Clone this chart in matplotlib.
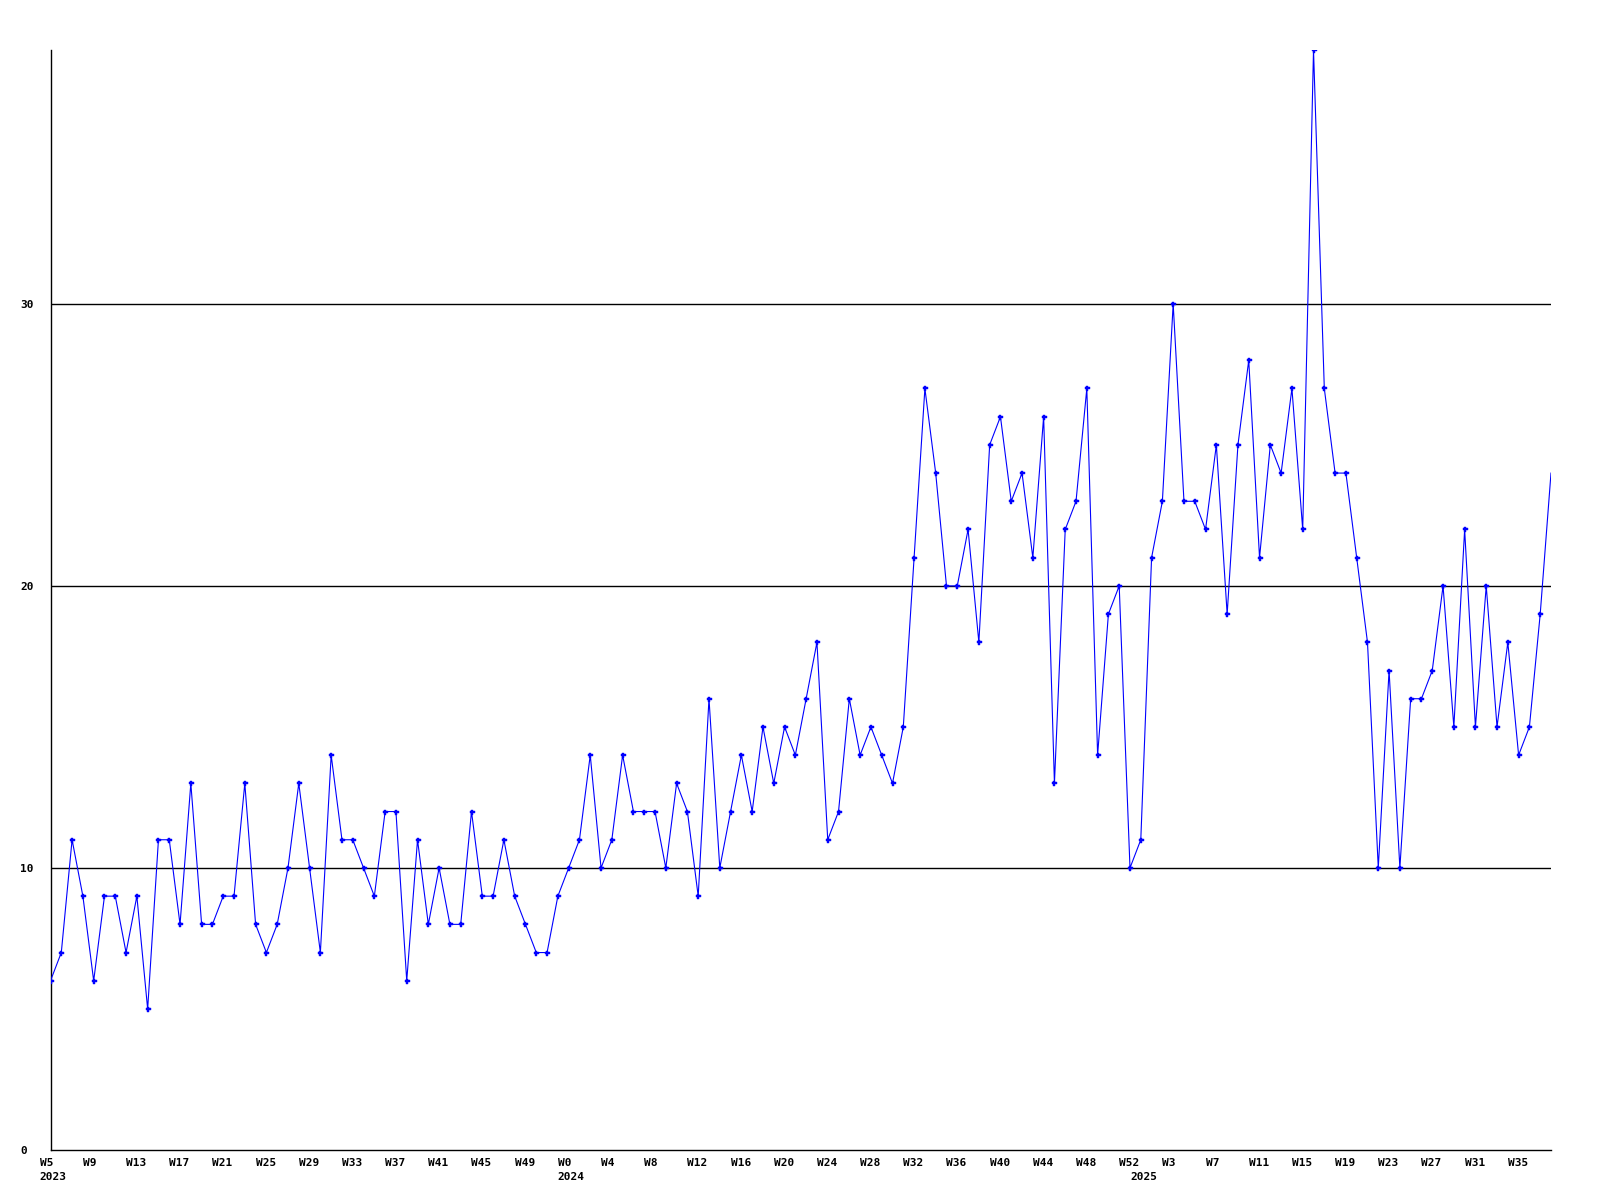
import matplotlib
matplotlib.use("Agg")
import matplotlib.pyplot as plt
import matplotlib.transforms as mtransforms

# ---- data ----
values = [6, 7, 11, 9, 6, 9, 9, 7, 9, 5,
          11, 11, 8, 13, 8, 8, 9, 9, 13, 8,
          7, 8, 10, 13, 10, 7, 14, 11, 11, 10,
          9, 12, 12, 6, 11, 8, 10, 8, 8, 12,
          9, 9, 11, 9, 8, 7, 7, 9, 10, 11,
          14, 10, 11, 14, 12, 12, 12, 10, 13, 12,
          9, 16, 10, 12, 14, 12, 15, 13, 15, 14,
          16, 18, 11, 12, 16, 14, 15, 14, 13, 15,
          21, 27, 24, 20, 20, 22, 18, 25, 26, 23,
          24, 21, 26, 13, 22, 23, 27, 14, 19, 20,
          10, 11, 21, 23, 30, 23, 23, 22, 25, 19,
          25, 28, 21, 25, 24, 27, 22, 39, 27, 24,
          24, 21, 18, 10, 17, 10, 16, 16, 17, 20,
          15, 22, 15, 20, 15, 18, 14, 15, 19, 24]
week_labels = ["W5", "W9", "W13", "W17", "W21", "W25", "W29", "W33", "W37",
               "W41", "W45", "W49", "W0", "W4", "W8", "W12", "W16", "W20",
               "W24", "W28", "W32", "W36", "W40", "W44", "W48", "W52", "W3",
               "W7", "W11", "W15", "W19", "W23", "W27", "W31", "W35"]
week_label_idx = list(range(0, 140, 4))
year_labels = ["2023", "2024", "2025"]
year_idx = [0, 48, 101]
y_ticks = [0, 10, 20, 30]

FONT = dict(family="DejaVu Sans Mono", weight="bold", size=8)

fig = plt.figure(figsize=(16, 12), dpi=100)
W, H = 1600, 1200
left, right, top, bottom = 50.5, 1551, 50, 1150
ax = fig.add_axes([left / W, (H - bottom) / H, (right - left) / W, (bottom - top) / H])

x = list(range(len(values)))
ax.plot(x, values, color="#0000ff", lw=0.8, marker="P", ms=3.6,
        mec="#0000ff", mfc="#0000ff", mew=0.3, zorder=3,
        markevery=list(range(len(values) - 1)))

ax.set_xlim(0, len(values) - 1)
ax.set_ylim(0, 39)

for s in ["top", "right"]:
    ax.spines[s].set_visible(False)
for s in ["left", "bottom"]:
    ax.spines[s].set_color("black")
    ax.spines[s].set_linewidth(1.0)

for yv in y_ticks[1:]:
    ax.axhline(yv, color="black", lw=1.0, zorder=2)

ax.set_yticks(y_ticks)
ax.set_yticklabels([str(v) for v in y_ticks], fontdict=FONT, ha="left")
ax.tick_params(axis="y", length=0, pad=22)

ax.set_xticks(week_label_idx)
ax.set_xticklabels(week_labels, fontdict=FONT, ha="left")
ax.tick_params(axis="x", length=0, pad=5.5)
offset = mtransforms.ScaledTranslation(-10.8 / 100, 0, fig.dpi_scale_trans)
for lab in ax.get_xticklabels():
    lab.set_transform(lab.get_transform() + offset)

trans = mtransforms.blended_transform_factory(ax.transData, ax.transAxes)
ytrans = trans + mtransforms.ScaledTranslation(-10.8 / 100, -22.5 / 100, fig.dpi_scale_trans)
for lab, i in zip(year_labels, year_idx):
    ax.text(i, 0, lab, transform=ytrans, ha="left", va="top", **FONT)

fig.savefig("out.png", dpi=100, facecolor="white")
